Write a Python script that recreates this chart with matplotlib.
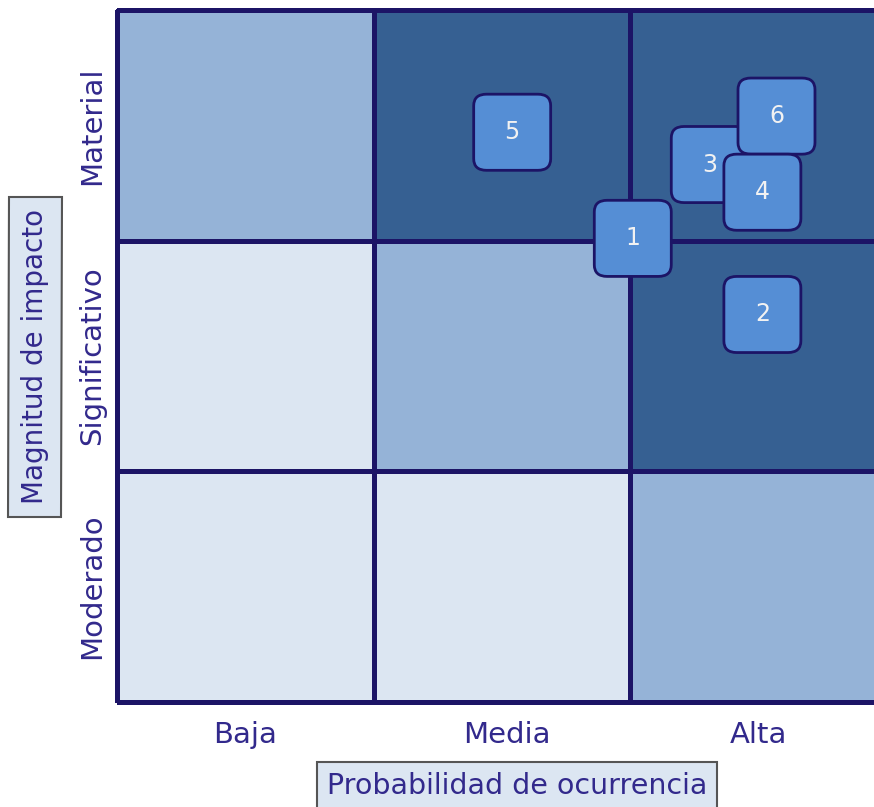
import numpy as np
import matplotlib.pyplot as plt
from matplotlib.colors import ListedColormap
from matplotlib.patches import FancyBboxPatch

# categorias de los ejes
prob_labels = ['Baja', 'Media', 'Alta']
impact_labels = ['Moderado', 'Significativo', 'Material']

# nivel de riesgo de cada celda (filas: impacto de abajo a arriba)
levels = [[0, 0, 1],
          [0, 1, 2],
          [1, 2, 2]]

# riesgos: id, probabilidad, impacto
risk_ids = ['5', '1', '3', '6', '4', '2']
risk_prob = [1.54, 2.01, 2.31, 2.57, 2.515, 2.515]
risk_impact = [2.47, 2.01, 2.33, 2.54, 2.21, 1.68]

navy = '#1c1466'
txt = '#32298c'
cmap = ListedColormap(['#dce6f2', '#95b3d7', '#366092'])

fig = plt.figure(figsize=(8.74, 8.07), dpi=100)
ax = fig.add_axes([117/874, 105/807, 757/874, 692/807])

mesh = ax.pcolormesh(np.arange(4), np.arange(4), np.array(levels), cmap=cmap,
                     vmin=0, vmax=2, edgecolors=navy, linewidth=2.2)
mesh.set_clip_on(False)

w, h = 0.30, 0.33
for rid, x, y in zip(risk_ids, risk_prob, risk_impact):
    box = FancyBboxPatch((x - w/2, y - h/2), w, h,
                         boxstyle='round,pad=0,rounding_size=0.05',
                         fc='#558ed5', ec=navy, lw=2, zorder=3)
    ax.add_patch(box)
    ax.text(x, y, rid, color='#f2f2f2', fontsize=17, ha='center', va='center', zorder=4)

ax.set_xlim(0, 2.95)
ax.set_ylim(0, 3)
for s in ax.spines.values():
    s.set_visible(False)

ax.set_xticks([0.5, 1.52, 2.5])
ax.set_xticklabels(prob_labels, fontsize=21, color=txt)
ax.set_yticks([0.5, 1.5, 2.5])
ax.set_yticklabels(impact_labels, fontsize=21, color=txt, rotation=90, va='center')
ax.tick_params(length=0)
ax.tick_params(axis='x', pad=14)
ax.tick_params(axis='y', pad=8)

fig.text(517/874, 1 - 786/807, 'Probabilidad de ocurrencia', fontsize=20.5, color=txt,
         ha='center', va='center',
         bbox=dict(boxstyle='square,pad=0.35', fc='#dce6f2', ec='#555555', lw=1.5))
fig.text(35/874, 1 - 357/807, 'Magnitud de impacto', fontsize=20, color=txt, rotation=90,
         ha='center', va='center',
         bbox=dict(boxstyle='square,pad=0.45', fc='#dce6f2', ec='#555555', lw=1.5))

fig.savefig('out.png', dpi=100)
